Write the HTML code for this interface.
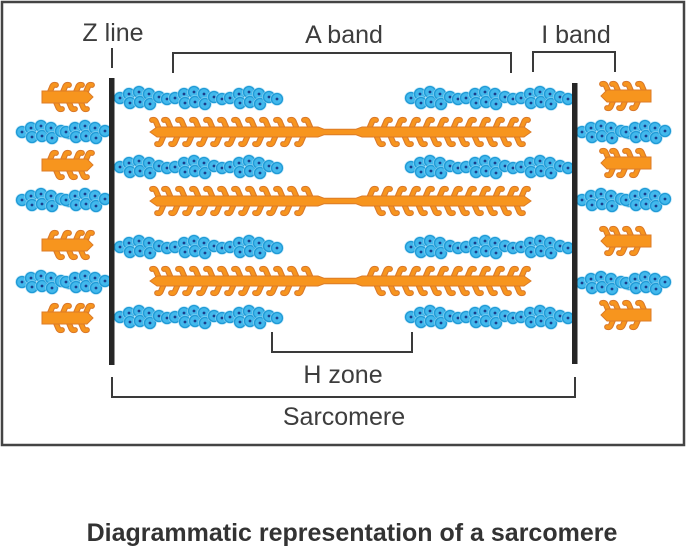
<!DOCTYPE html>
<html>
<head>
<meta charset="utf-8">
<style>
html,body{margin:0;padding:0;background:#fff;}
body{width:688px;height:547px;overflow:hidden;}
svg{display:block;}
.lbl{font-family:"Liberation Sans",Arial,sans-serif;font-size:25px;fill:#3d3d3d;}
.cap{font-family:"Liberation Sans",Arial,sans-serif;font-size:25px;font-weight:bold;fill:#333;}
</style>
</head>
<body>
<svg width="688" height="547" viewBox="0 0 688 547" xmlns="http://www.w3.org/2000/svg" xmlns:xlink="http://www.w3.org/1999/xlink">
<defs>
  <!-- myosin heads -->
  <g id="hul" fill="none" stroke-linecap="round" stroke-linejoin="round"><path d="M1,-3 L-2,-10 Q-3,-13 -6,-12" stroke="#d9782a" stroke-width="5.8"/><path d="M1,-3 L-2,-10 Q-3,-13 -6,-12" stroke="#f7951e" stroke-width="3.6"/></g>
  <g id="hdl" fill="none" stroke-linecap="round" stroke-linejoin="round"><path d="M1,3 L-2,10 Q-3,13 -6,12" stroke="#d9782a" stroke-width="5.8"/><path d="M1,3 L-2,10 Q-3,13 -6,12" stroke="#f7951e" stroke-width="3.6"/></g>
  <g id="hur" fill="none" stroke-linecap="round" stroke-linejoin="round"><path d="M-1,-3 L2,-10 Q3,-13 6,-12" stroke="#d9782a" stroke-width="5.8"/><path d="M-1,-3 L2,-10 Q3,-13 6,-12" stroke="#f7951e" stroke-width="3.6"/></g>
  <g id="hdr" fill="none" stroke-linecap="round" stroke-linejoin="round"><path d="M-1,3 L2,10 Q3,13 6,12" stroke="#d9782a" stroke-width="5.8"/><path d="M-1,3 L2,10 Q3,13 6,12" stroke="#f7951e" stroke-width="3.6"/></g>

  <!-- thick filament, centered at y=0 -->
  <g id="thick">
    <use xlink:href="#hul" x="310"/><use xlink:href="#hul" x="296"/><use xlink:href="#hul" x="282"/><use xlink:href="#hul" x="268"/><use xlink:href="#hul" x="254"/><use xlink:href="#hul" x="240"/><use xlink:href="#hul" x="226"/><use xlink:href="#hul" x="212"/><use xlink:href="#hul" x="198"/><use xlink:href="#hul" x="184"/><use xlink:href="#hul" x="170"/><use xlink:href="#hul" x="158"/>
    <use xlink:href="#hdl" x="303"/><use xlink:href="#hdl" x="289"/><use xlink:href="#hdl" x="275"/><use xlink:href="#hdl" x="261"/><use xlink:href="#hdl" x="247"/><use xlink:href="#hdl" x="233"/><use xlink:href="#hdl" x="219"/><use xlink:href="#hdl" x="205"/><use xlink:href="#hdl" x="191"/><use xlink:href="#hdl" x="177"/><use xlink:href="#hdl" x="163"/>
    <use xlink:href="#hur" x="370"/><use xlink:href="#hur" x="384"/><use xlink:href="#hur" x="398"/><use xlink:href="#hur" x="412"/><use xlink:href="#hur" x="426"/><use xlink:href="#hur" x="440"/><use xlink:href="#hur" x="454"/><use xlink:href="#hur" x="468"/><use xlink:href="#hur" x="482"/><use xlink:href="#hur" x="496"/><use xlink:href="#hur" x="510"/><use xlink:href="#hur" x="522"/>
    <use xlink:href="#hdr" x="377"/><use xlink:href="#hdr" x="391"/><use xlink:href="#hdr" x="405"/><use xlink:href="#hdr" x="419"/><use xlink:href="#hdr" x="433"/><use xlink:href="#hdr" x="447"/><use xlink:href="#hdr" x="461"/><use xlink:href="#hdr" x="475"/><use xlink:href="#hdr" x="489"/><use xlink:href="#hdr" x="503"/><use xlink:href="#hdr" x="517"/>
    <path d="M150,0 L157,-5 L318,-5 L324,-2.8 L356,-2.8 L362,-5 L524,-5 L531,0 L524,5 L362,5 L356,2.8 L324,2.8 L318,5 L157,5 Z" fill="#f7951e" stroke="#dc7b26" stroke-width="1"/>
  </g>

  <!-- left stub: right end of neighbour thick filament -->
  <g id="stubL">
    <use xlink:href="#hur" x="50"/><use xlink:href="#hur" x="63"/><use xlink:href="#hur" x="76"/><use xlink:href="#hur" x="86"/>
    <use xlink:href="#hdr" x="56"/><use xlink:href="#hdr" x="69"/><use xlink:href="#hdr" x="81"/>
    <path d="M42,-6 L87,-6 L93,0 L87,6 L42,6 Z" fill="#f7951e" stroke="#dc7b26" stroke-width="1"/>
  </g>
  <!-- right stub: left end of neighbour thick filament -->
  <g id="stubR">
    <use xlink:href="#hul" x="644"/><use xlink:href="#hul" x="631"/><use xlink:href="#hul" x="618"/><use xlink:href="#hul" x="608"/>
    <use xlink:href="#hdl" x="638"/><use xlink:href="#hdl" x="625"/><use xlink:href="#hdl" x="613"/>
    <path d="M651,-6 L607,-6 L601,0 L607,6 L651,6 Z" fill="#f7951e" stroke="#dc7b26" stroke-width="1"/>
  </g>

  <!-- actin bead -->
  <g id="b"><circle r="6.9" fill="#a9ddf5" opacity="0.6"/><circle r="5.5" fill="#42b8ec" stroke="#1f9ad6" stroke-width="1.3"/><circle r="1.4" fill="#1b3d8a"/></g>
  <g id="c8">
    <use xlink:href="#b" x="0" y="0"/><use xlink:href="#b" x="9" y="-4"/><use xlink:href="#b" x="10" y="5"/><use xlink:href="#b" x="19" y="-6"/><use xlink:href="#b" x="20" y="4"/><use xlink:href="#b" x="29" y="-4"/><use xlink:href="#b" x="30" y="6"/><use xlink:href="#b" x="39" y="-1"/>
  </g>
  <g id="c9"><use xlink:href="#c8"/><use xlink:href="#b" x="47" y="1"/></g>
  <g id="thin"><use xlink:href="#c9" x="0"/><use xlink:href="#c9" x="55"/><use xlink:href="#c9" x="110"/></g>
  <g id="outL"><use xlink:href="#c9" x="22"/><use xlink:href="#c8" x="66"/></g>
  <g id="outR"><use xlink:href="#c9" x="582"/><use xlink:href="#c8" x="626"/></g>
</defs>

<!-- frame -->
<rect x="2" y="2" width="682" height="443" fill="none" stroke="#444" stroke-width="2.5"/>

<!-- thin filament rows -->
<use xlink:href="#thin" transform="translate(120,98)"/>
<use xlink:href="#thin" transform="translate(411,98)"/>
<use xlink:href="#thin" transform="translate(120,167)"/>
<use xlink:href="#thin" transform="translate(411,167)"/>
<use xlink:href="#thin" transform="translate(120,247)"/>
<use xlink:href="#thin" transform="translate(411,247)"/>
<use xlink:href="#thin" transform="translate(120,317)"/>
<use xlink:href="#thin" transform="translate(411,317)"/>

<!-- outer thin filaments -->
<use xlink:href="#outL" transform="translate(0,132)"/>
<use xlink:href="#outL" transform="translate(0,200)"/>
<use xlink:href="#outL" transform="translate(0,282)"/>
<use xlink:href="#outR" transform="translate(0,132)"/>
<use xlink:href="#outR" transform="translate(0,200)"/>
<use xlink:href="#outR" transform="translate(0,283)"/>

<!-- thick filaments -->
<use xlink:href="#thick" transform="translate(0,132)"/>
<use xlink:href="#thick" transform="translate(0,201)"/>
<use xlink:href="#thick" transform="translate(0,281)"/>

<!-- stubs -->
<use xlink:href="#stubL" transform="translate(0,97)"/>
<use xlink:href="#stubL" transform="translate(0,165)"/>
<use xlink:href="#stubL" transform="translate(0,245)"/>
<use xlink:href="#stubL" transform="translate(0,318)"/>
<use xlink:href="#stubR" transform="translate(0,96)"/>
<use xlink:href="#stubR" transform="translate(0,163)"/>
<use xlink:href="#stubR" transform="translate(0,241)"/>
<use xlink:href="#stubR" transform="translate(0,315)"/>

<!-- Z lines -->
<rect x="109" y="78" width="5.5" height="287" fill="#262626"/>
<rect x="572" y="83" width="5.5" height="281" fill="#262626"/>

<!-- brackets -->
<g fill="none" stroke="#3a3a3a" stroke-width="2">
  <path d="M112,48 V68"/>
  <path d="M173,73 V53 H511 V73"/>
  <path d="M533,72 V52 H615 V72"/>
  <path d="M272,332 V352 H412 V332"/>
  <path d="M112,377 V397 H575 V377"/>
</g>

<!-- labels -->
<text class="lbl" x="113" y="41" text-anchor="middle">Z line</text>
<text class="lbl" x="344" y="43" text-anchor="middle">A band</text>
<text class="lbl" x="576" y="43" text-anchor="middle">I band</text>
<text class="lbl" x="343" y="383" text-anchor="middle">H zone</text>
<text class="lbl" x="344" y="425" text-anchor="middle">Sarcomere</text>

<text class="cap" x="352" y="541" text-anchor="middle">Diagrammatic representation of a sarcomere</text>
</svg>
</body>
</html>
